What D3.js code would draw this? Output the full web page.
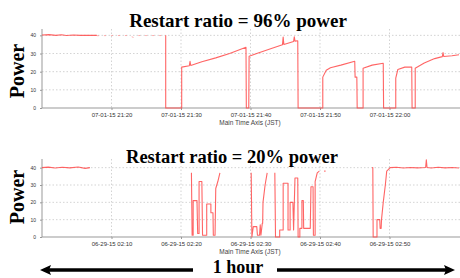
<!DOCTYPE html>
<html lang="en">
<head>
<meta charset="UTF-8">
<title>Restart ratio</title>
<script src="https://cdnjs.cloudflare.com/ajax/libs/d3/7.8.5/d3.min.js"></script>
<style>
    * { margin: 0; padding: 0; box-sizing: border-box; }
    body { background: #fff; width: 460px; height: 278px; overflow: hidden; }
    .big { font-family: 'Liberation Serif', 'Times New Roman', serif; font-weight: bold; fill: #000; }
    .tick text { font-family: 'Liberation Sans', Arial, sans-serif; fill: #333; }
    .axis-title { font-family: 'Liberation Sans', Arial, sans-serif; font-size: 6.5px; fill: #444; }
</style>
</head>
<body>
<svg id="chart" width="460" height="278"></svg>
<script>
    // values, minutes from panel start / power
    const yTicks = [0, 10, 20, 30, 40];
    const tickMinutes = [10, 20, 30, 40, 50];

    const topMin = [0, 1, 2, 2.8, 3.5, 4.5, 5.5, 6.5, 7.9, null,
        17.8, 17.8, 20.1, 20.1, 21.2, 21.3, 21.4, 23, 25, 27, 29.35, 29.4, 29.75, 29.8,
        31, 33, 34.6, 34.7, 34.8, 36.2, 36.3, 36.4, 36.8, 36.85, 40.4, 40.4, 40.9, 41.5, 43,
        45.0, 45.05, 45.3, 45.35, 46.2, 46.2, 47.5, 49.1, 49.15, 50.9, 50.9, 51.2, 52.2, 53.2,
        53.25, 53.7, 53.7, 55, 56.5, 57.6, 57.7, 57.8, 59, 60];
    const topVal = [40.2, 40.4, 40.0, 40.3, 39.9, 40.2, 40.0, 40.1, 40.0, null,
        40, 0, 0, 22.5, 23.3, 25.7, 23.4, 25.5, 27.6, 30.0, 33.4, 0, 0, 28.5,
        30.2, 32.8, 34.8, 39, 35.0, 36.6, 39.2, 36.8, 37, 0, 0, 17, 20.8, 22.2, 23.6,
        25.7, 17, 17, 0, 0, 21.9, 23.6, 24.6, 0, 0, 16.4, 21.2, 22.5, 22.5,
        0, 0, 21.9, 24.8, 27.2, 28.3, 30.5, 28.4, 28.8, 29.3];
    // faint sparse samples between the first block and the first drop
    const topSparseMin = [7.9, 10, 12.5, 13.2, 13.9, 15, 17.8];
    const topSparseVal = [39.8, 39.9, 39.9, 38.8, 39.9, 39.9, 39.9];

    const botMin = [0, 0.9, 1.9, 2.9, 4.0, 5.2, 6.2, 6.9, null,
        21.5, 21.6, 21.75, 21.75, 22.3, 22.4, 22.6, 22.6, 23.0, 23.1, 23.7, 23.7, 24.3, 24.3, 24.6,
        24.65, 24.9, 25.0, 25.3, 25.6, null,
        30.1, 30.2, 30.4, 30.9, 31.0, 31.3, 31.4, 31.5, 31.7, 31.75, 31.8, 32.1, 32.4, null,
        33.5, 33.6, 34.2, 34.2, 34.7, 34.7, 35.4, 35.4, 35.7, 35.7, 36.1, 36.2, 36.4, 36.8, 36.85,
        37.1, 37.1, 37.4, 37.4, 37.6, 37.65, 38.6, 38.7, 39.0, 39.05, 39.3, 39.3, 39.6, 39.9, null,
        40.6, 40.8, null,
        47.5, 47.6, 47.65, 48.2, 48.2, 48.6, 48.65, 48.8, 48.85, 49.1, 49.4, 49.6, 50.1,
        51, 52, 53, 54, 55.2, 55.3, 55.4, 56, 57, 58, 59, 60];
    const botVal = [40, 40.3, 39.8, 40.2, 39.9, 40.4, 39.6, 40.0, null,
        37, 1, 1, 21, 21, 2, 2, 32, 32, 1, 1, 19, 19, 14, 14,
        1, 1, 28, 32, 37, null,
        37, 0, 6, 6, 1, 1, 7, 1, 8, 8, 20, 30, 37, null,
        37, 0, 0, 4, 4, 31, 31, 4, 4, 20, 20, 4, 34, 34, 0,
        0, 5, 5, 21, 21, 5, 5, 29, 29, 1, 1, 32, 37, 38, null,
        38, 38, null,
        40, 40, 0, 0, 10, 10, 5, 5, 10, 20, 30, 38, 40,
        40.2, 39.8, 40.1, 39.9, 40.1, 44.6, 40.1, 39.8, 40.2, 39.9, 40.1, 39.8];

    const svg = d3.select('#chart');

    function pts(mins, vals) {
        return mins.map((m, i) => ({ m: m, v: vals[i] }));
    }

    function drawPanel(opt) {
        const x = d3.scaleTime()
            .domain([opt.start, d3.timeMinute.offset(opt.start, 60)])
            .range([42, 459]);
        const y = d3.scaleLinear().domain([0, opt.yMax]).range([opt.bottom, opt.top]);
        const tm = m => opt.start.getTime() + m * 60000;

        const g = svg.append('g');

        // grid
        g.selectAll('.hgrid').data(yTicks.slice(1)).enter().append('line')
            .attr('x1', 42).attr('x2', 460)
            .attr('y1', d => y(d)).attr('y2', d => y(d))
            .attr('stroke', '#c8c8c8').attr('stroke-width', 0.8)
            .attr('stroke-dasharray', '1.5,2');
        g.selectAll('.vgrid').data(tickMinutes).enter().append('line')
            .attr('x1', d => x(tm(d))).attr('x2', d => x(tm(d)))
            .attr('y1', opt.top).attr('y2', opt.bottom)
            .attr('stroke', '#c8c8c8').attr('stroke-width', 0.8)
            .attr('stroke-dasharray', '1.5,2');

        // axes
        const ya = g.append('g').attr('transform', 'translate(42,0)')
            .call(d3.axisLeft(y).tickValues(yTicks).tickSize(2).tickPadding(4));
        ya.selectAll('text').style('font-size', '5px');
        const xa = g.append('g').attr('transform', `translate(0,${opt.bottom})`)
            .call(d3.axisBottom(x).tickValues(tickMinutes.map(m => new Date(tm(m))))
                .tickFormat(d3.timeFormat('%m-%d-%y %H:%M')).tickSize(2).tickPadding(3));
        xa.selectAll('text').style('font-size', '6px');
        [ya, xa].forEach(a => {
            a.select('.domain').attr('stroke', '#999');
            a.selectAll('.tick line').attr('stroke', '#999');
        });
        ya.select('.domain').attr('d', `M0,${opt.top}V${opt.bottom}`);
        xa.select('.domain').attr('d', 'M42,0H460');

        g.append('text').attr('class', 'axis-title')
            .attr('x', 250).attr('y', opt.bottom + 17)
            .attr('text-anchor', 'middle').text('Main Time Axis (JST)');

        const line = d3.line()
            .defined(d => d.m !== null && d.v !== null)
            .x(d => x(tm(d.m))).y(d => y(d.v));

        if (opt.sparse) {
            g.append('path').datum(opt.sparse)
                .attr('fill', 'none').attr('stroke', '#ff8a8a')
                .attr('stroke-width', 1).attr('stroke-dasharray', '2,5')
                .attr('opacity', 0.7).attr('d', line);
        }
        g.append('path').datum(opt.data)
            .attr('fill', 'none').attr('stroke', '#ff4a4a')
            .attr('stroke-width', 1.1).attr('stroke-linejoin', 'round')
            .attr('opacity', 0.85).attr('d', line);

        // titles
        svg.append('text').attr('class', 'big')
            .attr('x', opt.titleX).attr('y', opt.titleY)
            .attr('text-anchor', 'middle').style('font-size', opt.titleSize + 'px')
            .text(opt.title);
        svg.append('text').attr('class', 'big')
            .attr('transform', `translate(24,${opt.powerY}) rotate(-90)`)
            .attr('text-anchor', 'middle').style('font-size', '20px')
            .text('Power');
    }

    drawPanel({
        start: new Date(2015, 6, 1, 21, 10), top: 29, bottom: 108, yMax: 43.5,
        data: pts(topMin, topVal), sparse: pts(topSparseMin, topSparseVal),
        title: 'Restart ratio = 96% power', titleX: 238, titleY: 27, titleSize: 19, powerY: 71
    });
    drawPanel({
        start: new Date(2015, 5, 29, 2, 0), top: 159, bottom: 237, yMax: 45,
        data: pts(botMin, botVal), sparse: null,
        title: 'Restart ratio = 20% power', titleX: 232, titleY: 163, titleSize: 18.5, powerY: 197
    });

    // "1 hour" arrows
    const arrowY = 270;
    const arrows = [[193, 40], [277, 455]];
    arrows.forEach(([from, to]) => {
        const dir = to > from ? 1 : -1;
        svg.append('line')
            .attr('x1', from).attr('x2', to - dir * 8)
            .attr('y1', arrowY).attr('y2', arrowY)
            .attr('stroke', '#000').attr('stroke-width', 3.4);
        svg.append('path')
            .attr('d', `M${to},${arrowY}L${to - dir * 11},${arrowY - 5}L${to - dir * 9},${arrowY}L${to - dir * 11},${arrowY + 5}Z`)
            .attr('fill', '#000');
    });
    svg.append('text').attr('class', 'big')
        .attr('x', 238).attr('y', 273).attr('text-anchor', 'middle')
        .style('font-size', '18px').text('1 hour');
</script>
</body>
</html>
